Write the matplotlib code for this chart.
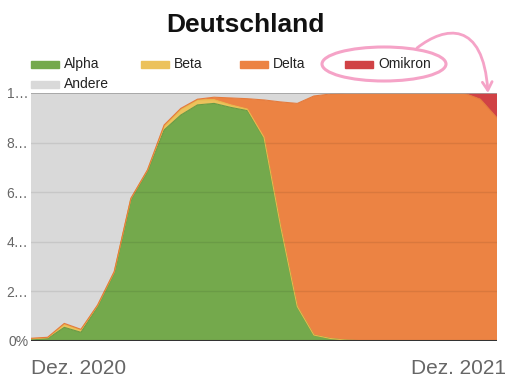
import matplotlib
matplotlib.use("Agg")
from matplotlib import pyplot as plt
from matplotlib.patches import Rectangle, Ellipse, FancyArrowPatch
from matplotlib.path import Path
import numpy as np

plt.rcParams['font.family'] = ['Liberation Sans', 'DejaVu Sans']

# biweekly shares, Dez. 2020 .. Dez. 2021
weeks = list(range(29))
alpha = [0.007, 0.010, 0.055, 0.035, 0.138, 0.273, 0.569, 0.683, 0.851, 0.911,
         0.952, 0.958, 0.942, 0.929, 0.817, 0.460, 0.138, 0.024, 0.010, 0.003,
         0.001, 0.0, 0.0, 0.0, 0.0, 0.0, 0.0, 0.0, 0.0]
beta = [0.002, 0.003, 0.012, 0.010, 0.005, 0.005, 0.005, 0.006, 0.015, 0.022,
        0.020, 0.015, 0.010, 0.006, 0.004, 0.002, 0.001, 0.0, 0.0, 0.0,
        0.0, 0.0, 0.0, 0.0, 0.0, 0.0, 0.0, 0.0, 0.0]
delta = [0.002, 0.002, 0.004, 0.002, 0.002, 0.002, 0.001, 0.001, 0.005, 0.005,
         0.003, 0.010, 0.028, 0.042, 0.151, 0.502, 0.819, 0.964, 0.986, 0.996,
         0.999, 1.0, 1.0, 1.0, 1.0, 1.0, 1.0, 0.975, 0.90]
omikron = [0.0] * 27 + [0.025, 0.10]
andere = [1 - a - b - d - o for a, b, d, o in zip(alpha, beta, delta, omikron)]

names = ['Alpha', 'Beta', 'Delta', 'Omikron', 'Andere']
colors = ['#74a94c', '#ecc25c', '#ec8343', '#d04245', '#d9d9d9']
edges = ['#6a9a44', '#e8b84a', '#e47a3c']
x_labels = ['Dez. 2020', 'Dez. 2021']

W, H = 508, 389
fig = plt.figure(figsize=(W / 100, H / 100), dpi=100)
ax = fig.add_axes([31 / W, 1 - 341 / H, 466 / W, 248 / H])

series = [alpha, beta, delta, omikron, andere]
ax.stackplot(weeks, *series, colors=colors, linewidth=0)
cum = np.cumsum(np.array(series), axis=0)
for i in range(3):
    ax.plot(weeks, cum[i], color=edges[i], lw=0.8)

ax.set_xlim(weeks[0], weeks[-1])
ax.set_ylim(0, 1)
for v in [0.2, 0.4, 0.6, 0.8]:
    ax.axhline(v, color='black', alpha=0.08, lw=1)
ax.axhline(1.0, color='#a0a0a0', lw=1.2)
ax.axhline(0.0, color='#333333', lw=1.5)
for s in ax.spines.values():
    s.set_visible(False)
ax.set_xticks([])
ax.set_yticks([0, 0.2, 0.4, 0.6, 0.8, 1.0])
ax.set_yticklabels(['0%', '2…', '4…', '6…', '8…', '1…'], color='#666666', fontsize=10)
ax.tick_params(axis='y', length=0, pad=2)

def fx(px):
    return px / W

def fy(py):
    return 1 - py / H

fig.text(fx(31), fy(368), x_labels[0], fontsize=15, color='#666666', ha='left', va='center')
fig.text(fx(506), fy(368), x_labels[1], fontsize=15, color='#666666', ha='right', va='center')

fig.text(fx(245), fy(25), 'Deutschland', fontsize=19, fontweight='bold',
         color='#111111', ha='center', va='center')

# legend
leg_pos = [(31, 65), (141, 65), (240, 65), (345, 65), (31, 85)]
for (lx, ly), name, c in zip(leg_pos, names, colors):
    fig.patches.append(Rectangle((fx(lx), fy(ly + 3)), 28 / W, 7 / H, color=c,
                                 transform=fig.transFigure, figure=fig))
    fig.text(fx(lx + 33), fy(ly - 1), name, fontsize=10, color='#222222',
             ha='left', va='center')

# pink annotation
pink = '#f5a3c7'
fig.patches.append(Ellipse((fx(384), fy(64)), 124 / W, 34 / H, fill=False,
                           edgecolor=pink, lw=2.2, transform=fig.transFigure, figure=fig))
verts = [(fx(417), fy(48)), (fx(445), fy(26)), (fx(483), fy(20)), (fx(488), fy(93))]
arc = Path(verts, [Path.MOVETO, Path.CURVE4, Path.CURVE4, Path.CURVE4])
arrow = FancyArrowPatch(path=arc, arrowstyle='->,head_length=6,head_width=3.5',
                        color=pink, lw=2.0, transform=fig.transFigure)
fig.patches.append(arrow)

fig.savefig('out.png', dpi=100)
